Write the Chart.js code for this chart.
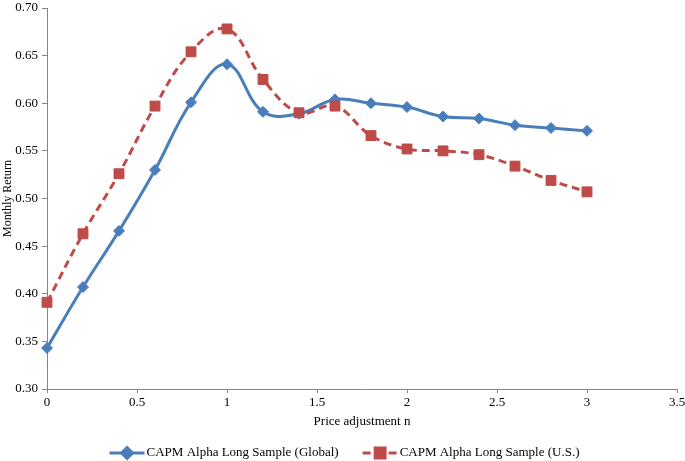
<!DOCTYPE html>
<html>
<head>
<meta charset="utf-8">
<script src="https://cdn.jsdelivr.net/npm/chart.js@4.4.1/dist/chart.umd.min.js"></script>
<style>
  html, body { margin: 0; padding: 0; background: #ffffff; }
  #wrap { width: 685px; height: 461px; position: relative; }
</style>
</head>
<body>
<div id="wrap"><canvas id="c" width="685" height="461"></canvas></div>
<script>
// ---- data ----
const priceAdjustment = [0, 0.2, 0.4, 0.6, 0.8, 1.0, 1.2, 1.4, 1.6, 1.8, 2.0, 2.2, 2.4, 2.6, 2.8, 3.0];
const globalAlpha = [0.343, 0.407, 0.466, 0.530, 0.601, 0.641, 0.591, 0.589, 0.604, 0.600, 0.596, 0.586, 0.584, 0.577, 0.574, 0.571];
const usAlpha     = [0.391, 0.463, 0.526, 0.597, 0.654, 0.678, 0.625, 0.590, 0.597, 0.566, 0.552, 0.550, 0.546, 0.534, 0.519, 0.507];
const seriesNames = ['CAPM Alpha Long Sample (Global)', 'CAPM Alpha Long Sample (U.S.)'];
const xTitle = 'Price adjustment n';
const yTitle = 'Monthly Return';

// ---- styles ----
const BLUE = '#4A7EBB';
const RED = '#BE4B48';
const AXIS = '#868686';
const FONT = "'Liberation Serif', 'Times New Roman', serif";

const toPts = (ys) => priceAdjustment.map((x, i) => ({ x: x, y: ys[i] }));

const legendPlugin = {
  id: 'lineLegend',
  afterDraw(chart) {
    const ctx = chart.ctx;
    const ds = chart.data.datasets;
    const lineLen = 35, textGap = 2, itemGap = 24, y = 453;
    ctx.save();
    ctx.font = '13px ' + FONT;
    const widths = ds.map(d => lineLen + textGap + ctx.measureText(d.label).width);
    const total = widths.reduce((a, b) => a + b, 0) + itemGap * (ds.length - 1);
    let x = chart.width / 2 - total / 2 + 2;
    ds.forEach((d, i) => {
      ctx.strokeStyle = d.borderColor;
      ctx.lineWidth = d.borderWidth;
      ctx.setLineDash(d.borderDash || []);
      ctx.beginPath();
      ctx.moveTo(x, y);
      ctx.lineTo(x + lineLen, y);
      ctx.stroke();
      ctx.setLineDash([]);
      Chart.helpers.drawPoint(ctx, {
        pointStyle: d.pointStyle, radius: d.pointRadius, rotation: 0, borderWidth: 1
      }, x + lineLen / 2, y);
      ctx.fillStyle = d.pointBackgroundColor;
      ctx.fill();
      ctx.fillStyle = '#000';
      ctx.textBaseline = 'middle';
      ctx.textAlign = 'left';
      ctx.fillText(d.label, x + lineLen + textGap, y);
      x += widths[i] + itemGap;
    });
    ctx.restore();
  }
};

new Chart(document.getElementById('c'), {
  type: 'line',
  data: {
    datasets: [
      {
        label: seriesNames[0],
        data: toPts(globalAlpha),
        borderColor: BLUE,
        backgroundColor: BLUE,
        pointBackgroundColor: BLUE,
        pointBorderColor: BLUE,
        borderWidth: 3,
        pointStyle: 'rectRot',
        pointRadius: 5.5,
        pointBorderWidth: 1,
        tension: 0.4,
        fill: false,
        clip: false,
        order: 1
      },
      {
        label: seriesNames[1],
        data: toPts(usAlpha),
        borderColor: RED,
        backgroundColor: RED,
        pointBackgroundColor: RED,
        pointBorderColor: RED,
        borderWidth: 3,
        borderDash: [8, 5],
        pointStyle: 'rect',
        pointRadius: 7,
        pointBorderWidth: 1,
        tension: 0.4,
        fill: false,
        clip: false,
        order: 0
      }
    ]
  },
  options: {
    responsive: false,
    animation: false,
    devicePixelRatio: 1,
    layout: { padding: { top: 5, right: 6, bottom: 32, left: 0 } },
    plugins: {
      legend: { display: false },
      tooltip: { enabled: false }
    },
    scales: {
      x: {
        type: 'linear',
        min: 0, max: 3.5,
        ticks: { stepSize: 0.5, color: '#000', padding: 2, maxRotation: 0, font: { family: FONT, size: 13 },
                 callback: (v) => String(Math.round(v * 10) / 10) },
        grid: { display: true, drawOnChartArea: false, drawTicks: true, tickLength: 4, color: AXIS },
        border: { display: true, color: AXIS, width: 1 },
        title: { display: true, text: xTitle, color: '#000', padding: { top: 0, bottom: 0 }, font: { family: FONT, size: 13 } },
        afterFit(s) { s.height = 40; s.paddingLeft = 0; s.paddingRight = 0; }
      },
      y: {
        type: 'linear',
        min: 0.3, max: 0.7,
        ticks: { stepSize: 0.05, color: '#000', padding: 4, font: { family: FONT, size: 13 },
                 callback: (v) => Number(v).toFixed(2) },
        grid: { display: true, drawOnChartArea: false, drawTicks: true, tickLength: 5, color: AXIS },
        border: { display: true, color: AXIS, width: 1 },
        title: { display: true, text: yTitle, color: '#000', padding: { top: 1, bottom: 0 }, font: { family: FONT, size: 12 } },
        afterFit(s) { s.width = 47; s.paddingTop = 0; s.paddingBottom = 0; }
      }
    }
  },
  plugins: [legendPlugin]
});
</script>
</body>
</html>
